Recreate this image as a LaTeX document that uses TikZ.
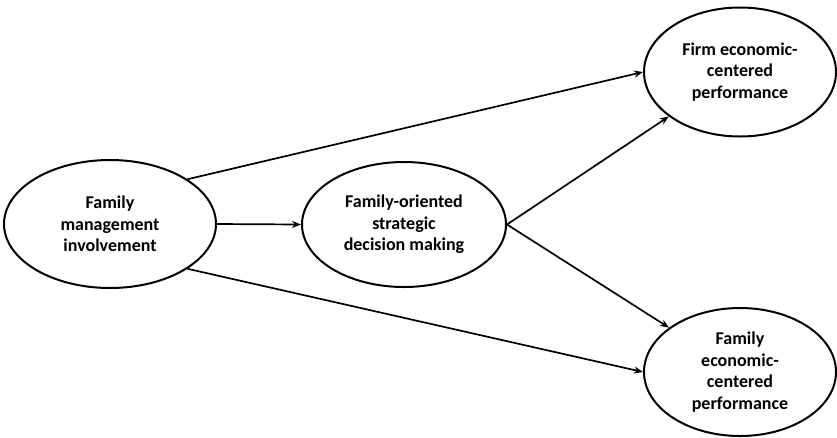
\documentclass[tikz,border=0pt]{standalone}
\usepackage{fontspec}
\setmainfont{Carlito}
\usetikzlibrary{shapes.geometric,arrows.meta}

\tikzset{
  construct/.style = {draw, ellipse, line width=2pt, inner sep=0pt, align=center,
    font=\fontsize{18}{21.5}\selectfont\bfseries},
  path/.style = {line width=1.7pt, -{Stealth[length=9pt,width=7pt]}}
}

\begin{document}
\begin{tikzpicture}[x=1pt, y=-1pt]
\useasboundingbox (0,0) rectangle (837,437);
\node[construct, minimum width=212pt, minimum height=128pt] (fmi) at (110,224) {Family\\management\\involvement};
\node[construct, minimum width=204pt, minimum height=125pt] (fosdm) at (404,224.5) {Family-oriented\\strategic\\decision making};
\node[construct, minimum width=192pt, minimum height=129pt] (fecp) at (740,72) {Firm economic-\\centered\\performance};
\node[construct, minimum width=192pt, minimum height=128pt] (famecp) at (740,372) {Family\\economic-\\centered\\performance};

\draw[path] (fmi.east) -- (fosdm.west);
\draw[path] (fmi.30) -- (fecp.west);
\draw[path] (fmi.-30) -- (famecp.west);
\draw[path] (fosdm.east) -- (fecp.212);
\draw[path] (fosdm.east) -- (famecp.148);

\end{tikzpicture}
\end{document}
